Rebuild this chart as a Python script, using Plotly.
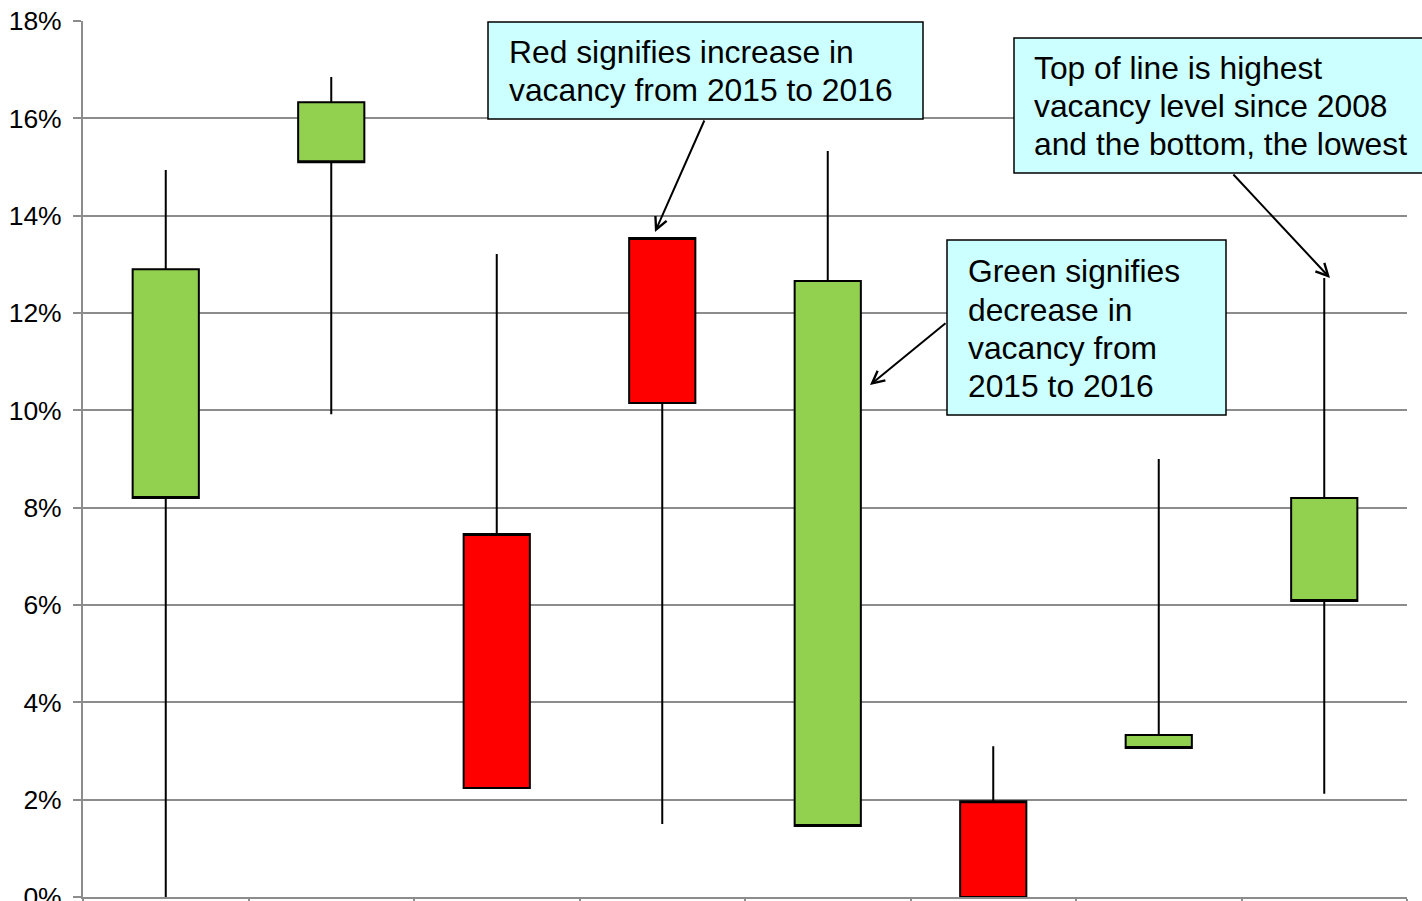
import plotly.graph_objects as go

# Vacancy rate ranges per market: 2015 (open), 2016 (close), high/low since 2008
positions = [0, 1, 2, 3, 4, 5, 6, 7]
vac_2015 = [12.9, 16.33, 2.24, 10.15, 12.66, 0.0, 3.33, 8.2]
vac_2016 = [8.2, 15.1, 7.46, 13.54, 1.46, 1.97, 3.06, 6.08]
vac_high = [14.94, 16.85, 13.21, 13.54, 15.33, 3.1, 9.0, 12.72]
vac_low = [0.0, 9.92, 2.24, 1.5, 1.46, 0.0, 3.06, 2.12]

y_ticks = [0, 2, 4, 6, 8, 10, 12, 14, 16, 18]
y_tick_text = [f"{v}%" for v in y_ticks]

W, H = 1422, 901
L, R, T, B = 83, 1407, 21, 897  # plot area in pixels


def px(x):
    return (x - L) / (R - L)


def py(y):
    return (B - y) / (B - T)


fig = go.Figure()
fig.add_trace(go.Candlestick(
    x=positions, open=vac_2015, high=vac_high, low=vac_low, close=vac_2016,
    increasing=dict(fillcolor="#FF0000", line=dict(color="black", width=2)),
    decreasing=dict(fillcolor="#92D050", line=dict(color="black", width=2)),
    whiskerwidth=0, showlegend=False, hoverinfo="skip",
))

grid = "#8C8C8C"
fig.update_layout(
    width=W, height=H,
    margin=dict(l=L, r=W - R, t=T, b=H - B, pad=0, autoexpand=False),
    paper_bgcolor="white", plot_bgcolor="white",
    font=dict(family="Liberation Sans, Arial, sans-serif", color="black"),
    boxgap=0.6, boxgroupgap=0,
    xaxis=dict(
        range=[-0.5, 7.5], rangeslider=dict(visible=False), automargin=False,
        showgrid=False, zeroline=False, showline=True, linecolor=grid, linewidth=2,
        tickmode="array", tickvals=[p - 0.5 for p in positions] + [7.5],
        ticks="outside", ticklen=8, tickcolor=grid, tickwidth=2, showticklabels=False,
    ),
    yaxis=dict(
        range=[0, 18], tickmode="array", tickvals=y_ticks, ticktext=y_tick_text,
        automargin=False, ticklabeloverflow="allow",
        showgrid=True, gridcolor=grid, gridwidth=2, zeroline=False,
        showline=True, linecolor=grid, linewidth=2,
        ticks="outside", ticklen=8, tickcolor=grid, tickwidth=2,
        tickfont=dict(size=26.5, color="black"), ticklabelstandoff=6,
    ),
)

# Callout boxes
boxes = [
    (488, 22, 923, 119),
    (1014, 38, 1445, 173),
    (947, 240, 1226, 415),
]
for x0, y0, x1, y1 in boxes:
    fig.add_shape(type="rect", xref="paper", yref="paper",
                  x0=px(x0), x1=px(x1), y0=py(y1), y1=py(y0),
                  fillcolor="#CCFFFF", line=dict(color="black", width=1.5),
                  layer="above")

# Callout text, one line at a time (x, y of line centre)
callout_lines = [
    (508, 52, "Red signifies increase in"),
    (508, 90, "vacancy from 2015 to 2016"),
    (1033, 68, "Top of line is highest"),
    (1033, 106, "vacancy level since 2008"),
    (1033, 144, "and the bottom, the lowest"),
    (967, 271, "Green signifies"),
    (967, 310, "decrease in"),
    (967, 348, "vacancy from"),
    (967, 386, "2015 to 2016"),
]
for x, y, t in callout_lines:
    fig.add_annotation(xref="paper", yref="paper", x=px(x), y=py(y),
                       xanchor="left", yanchor="middle", align="left",
                       text=t, showarrow=False, borderpad=0,
                       font=dict(size=31.8, color="black"))

# Pointer arrows (tail -> head, pixels)
arrows = [
    ((705, 119), (655, 232)),
    ((1232, 173), (1330, 278)),
    ((947, 322), (870, 385)),
]
for (tx, ty), (hx, hy) in arrows:
    fig.add_annotation(xref="paper", yref="paper", x=px(hx), y=py(hy),
                       ax=tx - hx, ay=ty - hy, text="", showarrow=True,
                       arrowhead=5, arrowsize=1.2, arrowwidth=2, arrowcolor="black")

fig.write_html("out.html")
